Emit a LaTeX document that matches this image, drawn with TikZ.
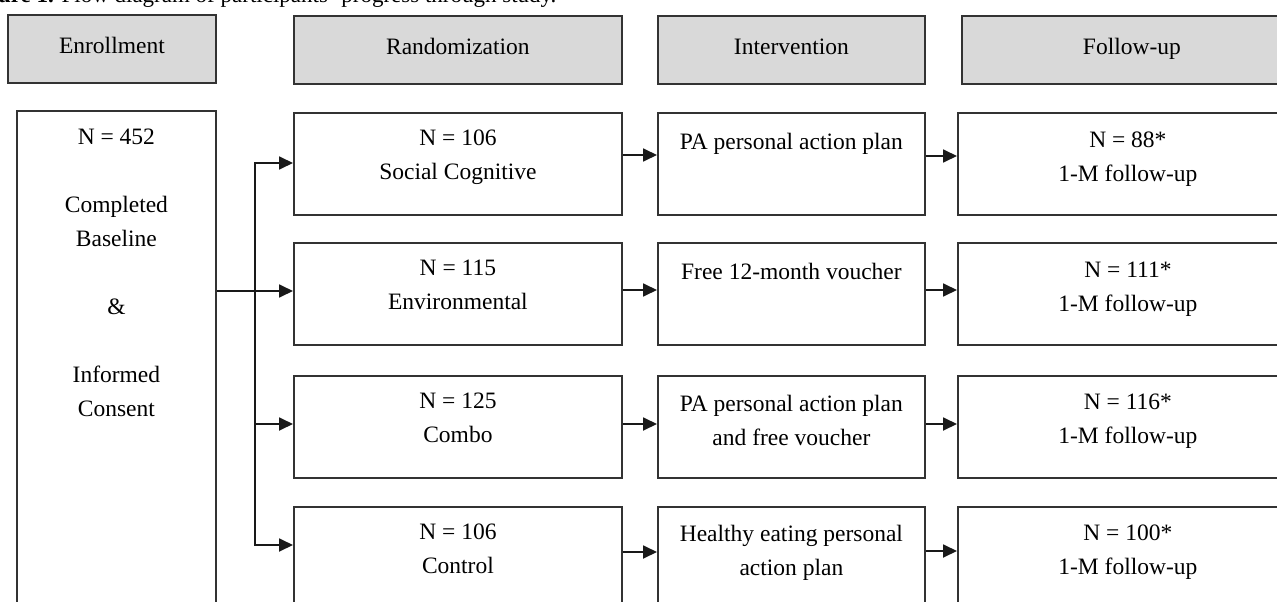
\documentclass[tikz,border=0pt]{standalone}
\usepackage{fontspec}
\setmainfont{Liberation Serif}
\usetikzlibrary{arrows.meta}

\begin{document}
\begin{tikzpicture}[x=1pt,y=-1pt,
  hdr/.style={draw=black!80, line width=1.8pt, fill=gray!30, minimum height=68pt,
              anchor=north west, inner sep=0pt},
  stagebox/.style={draw=black!80, line width=1.8pt, fill=white, minimum height=102pt,
              anchor=north west, inner sep=0pt},
  htxt/.style={anchor=base, inner sep=0pt, font=\fontsize{23.5}{34}\selectfont},
  % first line carries a fixed-height strut so the node top sits 17pt above its baseline
  txt/.style={anchor=north, align=center, inner sep=0pt, font=\fontsize{23.5}{34}\selectfont,
              execute at begin node=\rule{0pt}{17pt}},
  link/.style={line width=1.8pt, draw=black!90, line cap=rect},
  arr/.style={line width=1.8pt, draw=black!90, -{Triangle[length=14pt,width=13pt]}}]

\useasboundingbox (0,0) rectangle (1277,602);
\clip (0,0) rectangle (1277,602);

% caption line
\node[anchor=base west, inner sep=0pt, font=\fontsize{23}{28}\selectfont] (cap) at (-34,3)
  {\textbf{Figure 1.} Flow diagram of participants’ progress through study.};

% stage headers
\node[hdr, minimum width=208pt] (hE) at (7,14) {};
\node[hdr, minimum width=328pt] (hR) at (293,15) {};
\node[hdr, minimum width=267pt] (hI) at (657,15) {};
\node[hdr, minimum width=340pt] (hF) at (961,15) {};
\node[htxt] (hEt) at ([yshift=-5pt]hE.center) {Enrollment};
\node[htxt] (hRt) at ([yshift=-5pt]hR.center) {Randomization};
\node[htxt] (hIt) at ([yshift=-5pt]hI.center) {Intervention};
\node[htxt] (hFt) at ([yshift=-5pt]hF.center) {Follow-up};

% enrollment
\node[stagebox, minimum width=199pt, minimum height=540pt] (en) at (16,110) {};
\node[txt] (ent) at ([yshift=-19pt]en.north)
  {N = 452\\[34pt]Completed\\Baseline\\[34pt]\&\\[34pt]Informed\\Consent};

% randomized groups
\node[stagebox, minimum width=328pt] (r1) at (293,112) {};
\node[stagebox, minimum width=328pt] (r2) at (293,242) {};
\node[stagebox, minimum width=328pt] (r3) at (293,375) {};
\node[stagebox, minimum width=328pt] (r4) at (293,506) {};
\node[txt] (r1t) at ([yshift=-18pt]r1.north) {N = 106\\Social Cognitive};
\node[txt] (r2t) at ([yshift=-18pt]r2.north) {N = 115\\Environmental};
\node[txt] (r3t) at ([yshift=-18pt]r3.north) {N = 125\\Combo};
\node[txt] (r4t) at ([yshift=-18pt]r4.north) {N = 106\\Control};

% interventions
\node[stagebox, minimum width=267pt] (i1) at (657,112) {};
\node[stagebox, minimum width=267pt] (i2) at (657,242) {};
\node[stagebox, minimum width=267pt] (i3) at (657,375) {};
\node[stagebox, minimum width=267pt] (i4) at (657,506) {};
\node[txt] (i1t) at ([yshift=-20pt]i1.north) {PA personal action plan};
\node[txt] (i2t) at ([yshift=-20pt]i2.north) {Free 12-month voucher};
\node[txt] (i3t) at ([yshift=-20pt]i3.north) {PA personal action plan\\and free voucher};
\node[txt] (i4t) at ([yshift=-19pt]i4.north) {Healthy eating personal\\action plan};

% follow-up
\node[stagebox, minimum width=340pt] (f1) at (957,112) {};
\node[stagebox, minimum width=340pt] (f2) at (957,242) {};
\node[stagebox, minimum width=340pt] (f3) at (957,375) {};
\node[stagebox, minimum width=340pt] (f4) at (957,506) {};
\node[txt] (f1t) at ([yshift=-20pt]f1.north) {N = 88*\\1-M follow-up};
\node[txt] (f2t) at ([yshift=-20pt]f2.north) {N = 111*\\1-M follow-up};
\node[txt] (f3t) at ([yshift=-19pt]f3.north) {N = 116*\\1-M follow-up};
\node[txt] (f4t) at ([yshift=-19pt]f4.north) {N = 100*\\1-M follow-up};

% allocation branches
\coordinate (bus1) at (255,163);
\coordinate (bus4) at (255,545);
\draw[link] (bus1) -- (bus4);
\draw[arr] (bus1) -- (r1.west |- bus1);
\draw[arr] (en.east |- 0,291) -- (r2.west |- 0,291);
\draw[arr] (bus1 |- 0,424) -- (r3.west |- 0,424);
\draw[arr] (bus4) -- (r4.west |- bus4);

% group to intervention
\draw[arr] (r1.east |- 0,155) -- (i1.west |- 0,155);
\draw[arr] (r2.east |- 0,290) -- (i2.west |- 0,290);
\draw[arr] (r3.east |- 0,424) -- (i3.west |- 0,424);
\draw[arr] (r4.east |- 0,552) -- (i4.west |- 0,552);

% intervention to follow-up
\draw[arr] (i1.east |- 0,156) -- (f1.west |- 0,156);
\draw[arr] (i2.east |- 0,290) -- (f2.west |- 0,290);
\draw[arr] (i3.east |- 0,424) -- (f3.west |- 0,424);
\draw[arr] (i4.east |- 0,551) -- (f4.west |- 0,551);
\end{tikzpicture}
\end{document}
